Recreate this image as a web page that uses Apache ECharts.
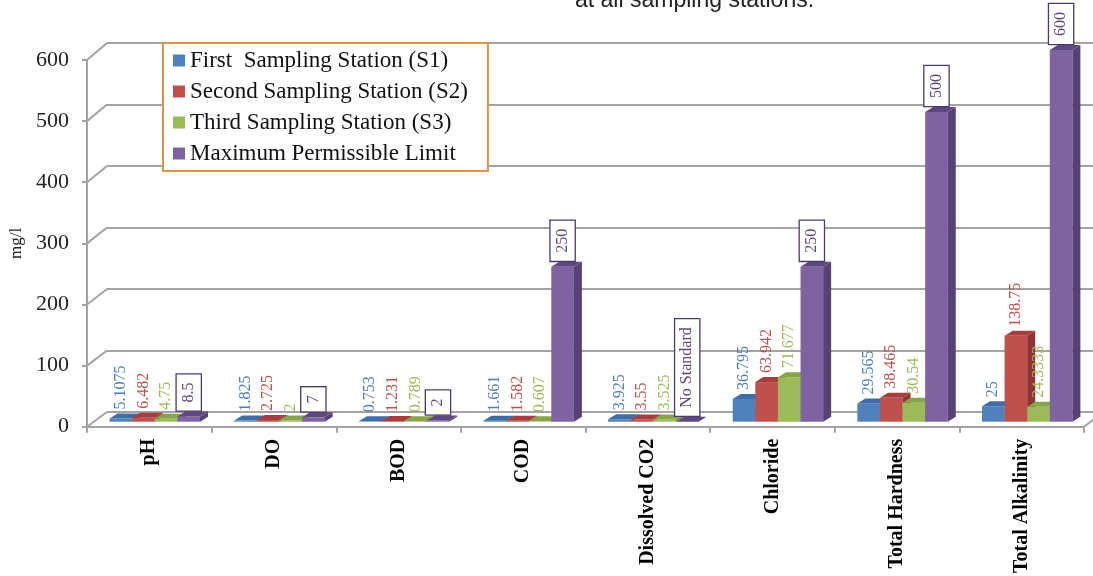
<!DOCTYPE html>
<html><head><meta charset="utf-8">
<script src="https://cdn.jsdelivr.net/npm/echarts@6/dist/echarts.min.js"></script>
<style>html,body{margin:0;padding:0;background:#fff}#c{width:1093px;height:576px}</style>
</head><body><div id="c"></div>
<script>
// ---------- data ----------
const categories = ['pH', 'DO', 'BOD', 'COD', 'Dissolved CO2', 'Chloride', 'Total Hardness', 'Total Alkalinity'];
const station1 = [5.1075, 1.825, 0.753, 1.661, 3.925, 36.795, 29.565, 25];
const station2 = [6.482, 2.725, 1.231, 1.582, 3.55, 63.942, 38.465, 138.75];
const station3 = [4.75, 2, 0.789, 0.607, 3.525, 71.677, 30.54, 24.3333];
const maxLimit = [8.5, 7, 2, 250, null, 250, 500, 600];
const seriesNames = ['First  Sampling Station (S1)', 'Second Sampling Station (S2)', 'Third Sampling Station (S3)', 'Maximum Permissible Limit'];
const yTicks = [0, 100, 200, 300, 400, 500, 600];
const noStandardText = 'No Standard';
const titleText = 'at all sampling stations.';
const yName = 'mg/l';

// ---------- styles ----------
const palettes = [
  {front: '#4F81BD', side: '#37608F', top: '#3F6DA6', label: '#4F7DB5'},
  {front: '#C0504D', side: '#8E3533', top: '#A63F3C', label: '#B8504C'},
  {front: '#9BBB59', side: '#728C3E', top: '#86A449', label: '#9DB858'},
  {front: '#7E62A1', side: '#574276', top: '#5E4882', label: '#5F497A'}
];
const allSeries = [station1, station2, station3, maxLimit];
const SERIF = '"Liberation Serif", "Times New Roman", serif';
const GRID_BAR = {left: 92.5, right: 3.5, top: 50, bottom: 154.3};
const GRID_FRONT = {left: 87, right: 9, top: 60, bottom: 149};
const GRID_BACK = {left: 107, width: 1000, top: 43, bottom: 164};
const DX = 8, DY = 5;
const gridColor = '#A3A3A3';

function render3D(k) {
  const pal = palettes[k];
  return function (params, api) {
    const ci = api.value(0);
    const raw = allSeries[k][params.dataIndex];
    const v = raw == null ? 0 : raw;
    const base = api.coord([ci, 0]);
    const topP = api.coord([ci, v]);
    const cw = api.size([1, 0])[0];
    const w = cw * 0.1814;
    const cx = base[0] + (k - 1.5) * w;
    const x0 = cx - w / 2, x1 = cx + w / 2;
    const yb = base[1], yt = topP[1];
    const children = [
      {type: 'rect', shape: {x: x0, y: yt, width: w, height: Math.max(0, yb - yt)}, style: {fill: pal.front}},
      {type: 'polygon', shape: {points: [[x1, yt], [x1 + DX, yt - DY], [x1 + DX, yb - DY], [x1, yb]]}, style: {fill: pal.side}},
      {type: 'polygon', shape: {points: [[x0, yt], [x0 + DX, yt - DY], [x1 + DX, yt - DY], [x1, yt]]}, style: {fill: pal.top}}
    ];
    const isMax = k === 3;
    const txt = raw == null ? noStandardText : String(raw);
    const style = {text: txt, fill: pal.label, font: '16px ' + SERIF, align: 'left', verticalAlign: 'middle'};
    if (isMax) {
      style.backgroundColor = '#fff';
      style.borderColor = '#4B3A6B';
      style.borderWidth = 1.3;
      style.padding = [4, 8];
    }
    children.push({
      type: 'text', x: cx, y: yt - DY - (isMax ? 1 : 4),
      rotation: Math.PI / 2, style: style, z2: 10
    });
    return {type: 'group', children: children};
  };
}

const chart = echarts.init(document.getElementById('c'), null, {renderer: 'canvas'});

const series = allSeries.map((arr, k) => ({
  type: 'custom',
  name: seriesNames[k],
  xAxisIndex: 0, yAxisIndex: 0,
  itemStyle: {color: palettes[k].front},
  renderItem: render3D(k),
  data: arr.map((v, i) => [i, v == null ? 0 : v]),
  z: 5
}));

const option = {
  animation: false,
  backgroundColor: '#fff',
  graphic: [],
  legend: {
    left: 163, top: 43, orient: 'vertical',
    data: seriesNames,
    icon: 'rect', itemWidth: 12, itemHeight: 12, itemGap: 8,
    backgroundColor: '#fff', borderColor: '#E0924A', borderWidth: 2,
    padding: [6, 20, 6, 10],
    textStyle: {fontFamily: SERIF, fontSize: 23, color: '#111'},
    z: 20
  },
  grid: [
    Object.assign({}, GRID_BAR),
    Object.assign({}, GRID_FRONT),
    Object.assign({}, GRID_BACK)
  ],
  xAxis: [
    {type: 'category', gridIndex: 0, data: categories, show: false},
    {type: 'category', gridIndex: 1, data: categories, boundaryGap: true,
      axisLine: {lineStyle: {color: gridColor, width: 2}},
      axisTick: {show: true, interval: 0, length: 6, lineStyle: {color: gridColor, width: 2}},
      axisLabel: {interval: 0, rotate: 90, margin: 12, fontFamily: SERIF, fontWeight: 'bold', fontSize: 20, color: '#000'}
    },
    {type: 'category', gridIndex: 2, data: categories, show: false}
  ],
  yAxis: [
    {type: 'value', gridIndex: 0, min: yTicks[0], max: yTicks[yTicks.length - 1], interval: 100, show: false},
    {type: 'value', gridIndex: 1, min: yTicks[0], max: yTicks[yTicks.length - 1], interval: 100,
      name: yName, nameLocation: 'middle', nameGap: 57, nameRotate: 90,
      nameTextStyle: {fontFamily: SERIF, fontSize: 17, color: '#222'},
      axisLine: {show: true, lineStyle: {color: gridColor, width: 2}},
      axisTick: {show: true, length: 5, lineStyle: {color: gridColor, width: 2}},
      splitLine: {show: false},
      axisLabel: {margin: 18, fontFamily: SERIF, fontSize: 22, color: '#222'}
    },
    {type: 'value', gridIndex: 2, min: yTicks[0], max: yTicks[yTicks.length - 1], interval: 100,
      axisLine: {show: false}, axisTick: {show: false}, axisLabel: {show: false},
      splitLine: {show: true, lineStyle: {color: gridColor, width: 2}}
    }
  ],
  series: series
};
chart.setOption(option);

// wall diagonals connecting the front axis to the back wall
const g = [];
yTicks.forEach(v => {
  const yf = chart.convertToPixel({yAxisIndex: 1}, v);
  const yk = chart.convertToPixel({yAxisIndex: 2}, v);
  g.push({type: 'line', shape: {x1: GRID_FRONT.left, y1: yf, x2: GRID_BACK.left, y2: yk},
    style: {stroke: gridColor, lineWidth: 2}, z: 1});
});
const yf0 = chart.convertToPixel({yAxisIndex: 1}, 0);
const yk0 = chart.convertToPixel({yAxisIndex: 2}, 0);
const xRight = 1093 - GRID_FRONT.right;
g.push({type: 'line', shape: {x1: xRight, y1: yf0, x2: xRight + (GRID_BACK.left - GRID_FRONT.left), y2: yk0},
  style: {stroke: gridColor, lineWidth: 2}, z: 1});
g.push({type: 'text', x: 575, y: 12, style: {text: titleText, font: '23px "Liberation Sans", Arial, sans-serif', fill: '#222', verticalAlign: 'bottom'}, z: 30});
chart.setOption({graphic: g});
</script>
</body></html>
